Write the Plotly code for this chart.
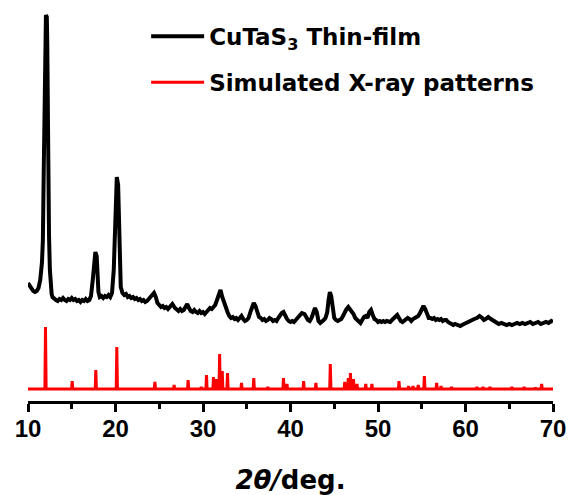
import plotly.graph_objects as go

# ---- data (intensities in arbitrary units) ----
film_two_theta = [10.0, 10.2, 10.4, 10.6, 10.8, 11.0, 11.2, 11.4, 11.6, 11.7, 11.8, 11.9, 12.0, 12.05, 12.15,
                  12.2, 12.3, 12.4, 12.5, 12.6, 12.7, 12.8, 13.0, 13.2, 13.4, 13.6, 13.8, 14.0, 14.2, 14.4,
                  14.6, 14.8, 15.0, 15.2, 15.4, 15.6, 15.8, 16.0, 16.2, 16.4, 16.6, 16.8, 17.0, 17.2, 17.4,
                  17.55, 17.7, 17.85, 17.95, 18.05, 18.2, 18.4, 18.6, 18.8, 19.0, 19.2, 19.4, 19.6, 19.8,
                  19.95, 20.05, 20.15, 20.3, 20.4, 20.5, 20.6, 20.8, 21.0, 21.2, 21.4, 21.6, 21.8, 22.0,
                  22.2, 22.4, 22.6, 22.8, 23.0, 23.2, 23.4, 23.6, 23.8, 24.0, 24.2, 24.4, 24.6, 24.8, 25.0,
                  25.2, 25.4, 25.6, 25.8, 26.0, 26.2, 26.5, 26.8, 27.0, 27.2, 27.4, 27.6, 27.8, 28.0, 28.2,
                  28.4, 28.6, 28.8, 29.0, 29.2, 29.4, 29.6, 29.8, 30.0, 30.2, 30.4, 30.6, 30.8, 31.0, 31.2,
                  31.4, 31.6, 31.8, 32.0, 32.2, 32.4, 32.6, 32.8, 33.0, 33.2, 33.4, 33.6, 33.8, 34.0, 34.2,
                  34.4, 34.6, 34.8, 35.0, 35.2, 35.5, 35.8, 36.0, 36.2, 36.4, 36.6, 36.8, 37.0, 37.2, 37.4,
                  37.6, 37.8, 38.0, 38.2, 38.4, 38.6, 38.8, 39.0, 39.2, 39.4, 39.6, 39.8, 40.0, 40.2, 40.4,
                  40.6, 40.8, 41.0, 41.3, 41.6, 41.8, 42.0, 42.2, 42.4, 42.6, 42.8, 43.0, 43.2, 43.4, 43.6,
                  43.8, 44.0, 44.2, 44.35, 44.5, 44.65, 44.8, 45.0, 45.2, 45.4, 45.6, 45.8, 46.0, 46.2, 46.4,
                  46.6, 46.8, 47.0, 47.2, 47.4, 47.6, 47.8, 48.0, 48.2, 48.4, 48.6, 48.8, 49.0, 49.2, 49.4,
                  49.6, 49.8, 50.0, 50.2, 50.4, 50.6, 50.8, 51.0, 51.2, 51.4, 51.6, 51.8, 52.0, 52.2, 52.4,
                  52.6, 52.8, 53.0, 53.2, 53.4, 53.6, 53.8, 54.0, 54.2, 54.4, 54.6, 54.8, 55.0, 55.2, 55.4,
                  55.6, 55.8, 56.0, 56.2, 56.4, 56.6, 56.8, 57.0, 57.2, 57.4, 57.6, 57.8, 58.0, 58.2, 58.4,
                  58.6, 58.8, 59.0, 59.2, 59.4, 59.6, 59.8, 60.0, 60.2, 60.4, 60.6, 60.8, 61.0, 61.3, 61.6,
                  61.9, 62.1, 62.3, 62.6, 62.9, 63.2, 63.5, 63.8, 64.1, 64.4, 64.7, 65.0, 65.3, 65.6, 65.9,
                  66.2, 66.5, 66.8, 67.1, 67.4, 67.7, 68.0, 68.3, 68.6, 68.9, 69.2, 69.5, 69.8, 70.0]

film_intensity = [118, 115, 112, 110, 109, 110, 113, 121, 139, 161, 231, 291, 359, 386, 384,
                  359, 231, 166, 131, 113, 107, 104, 102, 101, 100, 102, 101, 103, 101, 100,
                  102, 101, 103, 101, 102, 100, 101, 99, 101, 100, 102, 100, 101, 105, 121,
                  143, 149, 145, 126, 109, 104, 105, 103, 105, 104, 106, 104, 108, 131,
                  186, 216, 224, 216, 186, 136, 114, 108, 106, 107, 104, 105, 103, 104,
                  102, 103, 101, 102, 100, 101, 99, 100, 102, 104, 107, 108, 104, 98, 96,
                  94, 95, 93, 94, 92, 94, 97, 93, 91, 90, 92, 90, 91, 94, 97,
                  93, 90, 89, 91, 89, 88, 90, 88, 89, 87, 89, 91, 93, 92, 94,
                  96, 101, 107, 111, 104, 98, 95, 89, 85, 83, 84, 82, 83, 81, 83,
                  85, 82, 80, 81, 83, 91, 98, 95, 88, 84, 83, 81, 82, 80, 81,
                  83, 82, 80, 81, 80, 83, 86, 88, 89, 85, 82, 80, 79, 80, 79,
                  81, 83, 85, 88, 87, 83, 81, 80, 83, 88, 93, 89, 80, 78, 79,
                  81, 83, 89, 101, 109, 105, 91, 83, 81, 80, 81, 82, 85, 89, 92,
                  94, 92, 89, 87, 83, 81, 79, 78, 81, 84, 85, 83, 89, 91, 86,
                  82, 81, 79, 80, 79, 80, 79, 80, 79, 79, 81, 83, 85, 86, 83,
                  80, 79, 80, 82, 83, 82, 80, 82, 83, 84, 85, 88, 92, 95, 92,
                  87, 83, 83, 82, 83, 81, 82, 81, 82, 80, 81, 81, 79, 78, 77,
                  76, 77, 76, 75, 75, 76, 77, 78, 78, 79, 80, 81, 82, 83, 85,
                  83, 81, 82, 84, 82, 80, 78, 77, 78, 77, 76, 77, 76, 77, 78,
                  77, 78, 77, 78, 79, 77, 78, 79, 77, 78, 79, 78, 80, 79]

sim_two_theta = [12.0, 15.05, 17.75, 20.15, 24.5, 26.7, 28.3, 29.8, 30.4, 31.2, 31.5, 31.9, 32.2,
                 32.8, 34.4, 35.8, 37.4, 39.2, 39.6, 41.5, 42.9, 44.55, 46.2, 46.6, 46.85, 47.2,
                 47.6, 48.6, 49.3, 52.4, 53.5, 54.0, 54.6, 55.3, 56.7, 57.2, 58.4, 61.3, 62.0,
                 62.8, 65.3, 66.7, 68.0, 68.7]
sim_intensity = [62, 8, 19, 42, 7, 4, 9, 2, 14, 12, 10, 35, 18,
                 16, 6, 11, 2, 11, 5, 8, 6, 25, 7, 11, 16, 10,
                 5, 5, 5, 8, 3, 3, 4, 13, 6, 3, 2, 2, 2,
                 2, 2, 2, 1.5, 5]
sim_offset = 12
x_ticks = [10, 20, 30, 40, 50, 60, 70]

# ---- build the simulated stick-pattern line from the peak list ----
half_w = 0.07
sx, sy = [10.0], [sim_offset]
for p, h in zip(sim_two_theta, sim_intensity):
    sx += [p - half_w, p, p + half_w]
    sy += [sim_offset, sim_offset + h, sim_offset]
sx.append(70.0)
sy.append(sim_offset)

fig = go.Figure()
fig.add_trace(go.Scatter(x=film_two_theta, y=film_intensity, mode="lines",
                         line=dict(color="black", width=4),
                         name="CuTaS<sub>3</sub> Thin-film", legendgroup="a"))
fig.add_trace(go.Scatter(x=sx, y=sy, mode="lines",
                         line=dict(color="#ff0000", width=3),
                         name="Simulated X-ray patterns", legendgroup="b"))

arial = "Liberation Sans, Arial, sans-serif"
wide = "DejaVu Sans, Liberation Sans, sans-serif"
fig.update_layout(
    width=570, height=495,
    margin=dict(l=28, r=17, t=5, b=94),
    paper_bgcolor="white", plot_bgcolor="white",
    showlegend=True,
    legend=dict(x=0.225, y=0.975, xanchor="left", yanchor="top",
                font=dict(family=wide, size=23, color="black", weight="bold"),
                bgcolor="rgba(0,0,0,0)", itemwidth=53, tracegroupgap=13),
    xaxis=dict(range=[10, 70], tickvals=x_ticks, ticktext=[str(v) for v in x_ticks],
               showline=True, linecolor="black", linewidth=3, mirror=False,
               ticks="outside", ticklen=8, tickwidth=3, tickcolor="black",
               minor=dict(dtick=5, ticks="outside", ticklen=5, tickwidth=3, tickcolor="black"),
               showgrid=False, zeroline=False, ticklabelstandoff=-4,
               tickfont=dict(family=arial, size=24, color="black", weight="bold"),
               title=dict(text="<i>2θ/</i>deg.", standoff=31,
                          font=dict(family=wide, size=26, color="black", weight="bold"))),
    yaxis=dict(range=[0, 396], visible=False, showgrid=False, zeroline=False),
)

fig.write_html("out.html", config={"displayModeBar": False},
               post_script="document.body.style.margin='0';")
